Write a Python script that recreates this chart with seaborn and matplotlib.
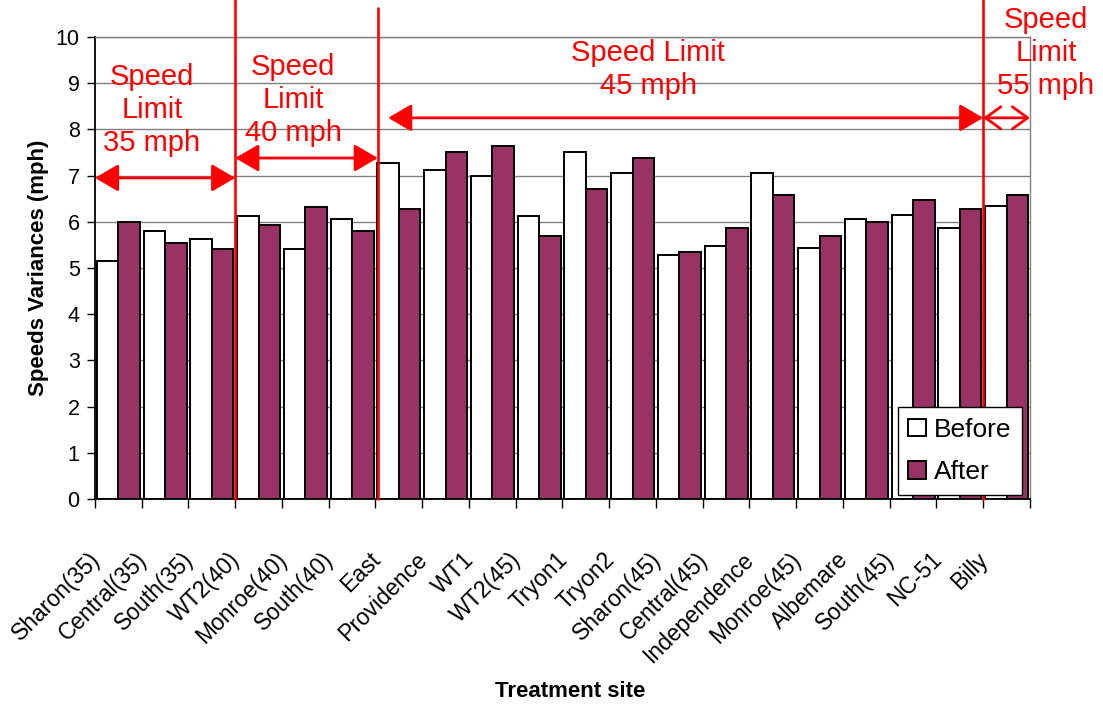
import matplotlib
matplotlib.use("Agg")
import matplotlib.pyplot as plt
import matplotlib.transforms as mtransforms
import numpy as np
import pandas as pd
import seaborn as sns

# ---------------- data ----------------
sites = ["Sharon(35)", "Central(35)", "South(35)", "WT2(40)", "Monroe(40)",
         "South(40)", "East", "Providence", "WT1", "WT2(45)", "Tryon1",
         "Tryon2", "Sharon(45)", "Central(45)", "Independence", "Monroe(45)",
         "Albemare", "South(45)", "NC-51", "Billy"]
before = [5.16, 5.81, 5.62, 6.13, 5.42, 6.07, 7.27, 7.13, 6.99, 6.13, 7.50,
          7.06, 5.29, 5.48, 7.06, 5.43, 6.07, 6.14, 5.87, 6.34]
after = [6.00, 5.55, 5.42, 5.93, 6.33, 5.81, 6.28, 7.50, 7.65, 5.69, 6.72,
         7.37, 5.35, 5.87, 6.58, 5.69, 6.00, 6.47, 6.27, 6.58]
periods = ["Before", "After"]
y_ticks = list(range(0, 11))

# speed-limit zone annotations
zone_texts = ["Speed\nLimit\n35 mph", "Speed\nLimit\n40 mph",
              "Speed Limit\n45 mph", "Speed\nLimit\n55 mph"]
zone_text_x = [0.72, 3.74, 11.33, 19.84]
zone_text_y = [8.42, 8.64, 9.30, 9.65]
zone_arrow_x0 = [-0.5, 2.5, 5.77, 18.5]
zone_arrow_x1 = [2.5, 5.55, 18.5, 19.5]
zone_arrow_y = [6.95, 7.38, 8.25, 8.25]
divider_x = [2.5, 5.55, 18.5]
divider_top = [1.08, 1.063, 1.08]

df = pd.DataFrame({
    "site": sites * 2,
    "value": before + after,
    "period": ["Before"] * len(sites) + ["After"] * len(sites),
})

sns.set_style("white")
plt.rcParams["font.family"] = ["Liberation Sans", "DejaVu Sans"]
plt.rcParams["text.color"] = "black"
plt.rcParams["axes.labelcolor"] = "black"
plt.rcParams["xtick.color"] = "black"
plt.rcParams["ytick.color"] = "black"

fig = plt.figure(figsize=(11.03, 7.10), dpi=100)
ax = fig.add_axes([0.0861, 0.2972, 0.8477, 0.6507])

sns.barplot(data=df, x="site", y="value", hue="period", hue_order=periods,
            order=sites, palette={"Before": "white", "After": "#993366"},
            edgecolor="black", linewidth=1.4, width=0.92, ax=ax,
            errorbar=None, saturation=1)

ax.set_xlim(-0.5, len(sites) - 0.5)
ax.set_ylim(0, 10)
ax.set_yticks(y_ticks)
ax.set_yticklabels([str(t) for t in y_ticks], fontsize=15.5, color="black")
ax.yaxis.grid(True, color="#808080", linewidth=1.0)
ax.set_axisbelow(True)
ax.tick_params(axis="y", length=6, width=1, color="black", pad=5,
               direction="out", left=True)

# x ticks: labels at centers, tick marks at category boundaries
ax.set_xticks(np.arange(len(sites)))
ax.set_xticklabels(sites, fontsize=16.5, rotation=45, ha="right",
                   va="center", rotation_mode="anchor", color="black")
ax.tick_params(axis="x", which="major", length=0, pad=41, bottom=True)
ax.set_xticks(np.arange(len(sites) + 1) - 0.5, minor=True)
ax.tick_params(axis="x", which="minor", length=6.5, width=1, color="black",
               direction="out", bottom=True)
offset = mtransforms.ScaledTranslation(-0.22, 0, fig.dpi_scale_trans)
for lab in ax.get_xticklabels():
    lab.set_transform(lab.get_transform() + offset)

for side in ["left", "bottom"]:
    ax.spines[side].set_color("black")
    ax.spines[side].set_linewidth(1.3)
for side in ["top", "right"]:
    ax.spines[side].set_visible(True)
    ax.spines[side].set_color("#808080")
    ax.spines[side].set_linewidth(1.0)

ax.set_xlabel("Treatment site", fontsize=16, fontweight="bold", color="black")
ax.set_ylabel("Speeds Variances (mph)", fontsize=16, fontweight="bold",
              color="black")
ax.xaxis.set_label_coords(0.508, -0.395)
ax.yaxis.set_label_coords(-0.049, 0.5)

# legend
handles, labels = ax.get_legend_handles_labels()
leg = ax.legend(handles, labels, loc="lower right",
                bbox_to_anchor=(0.991, 0.009), borderaxespad=0,
                fontsize=19, frameon=True, fancybox=False, shadow=False,
                framealpha=1, edgecolor="black", handlelength=0.65,
                handleheight=0.65, handletextpad=0.3, labelspacing=0.7,
                borderpad=0.4)
leg.get_frame().set_linewidth(1.0)

# red dividers
for x, top in zip(divider_x, divider_top):
    ax.plot([x, x], [0, top], color="red", linewidth=1.9,
            transform=ax.get_xaxis_transform(), clip_on=False, zorder=5)

# arrows
for i, (x0, x1, y) in enumerate(zip(zone_arrow_x0, zone_arrow_x1, zone_arrow_y)):
    if i == 3:
        style = "<->,head_length=0.55,head_width=0.4"
    else:
        style = "<|-|>,head_length=0.72,head_width=0.42"
    ax.annotate("", xy=(x1, y), xytext=(x0, y),
                arrowprops=dict(arrowstyle=style, color="red", lw=2.0,
                                mutation_scale=20, shrinkA=0, shrinkB=0),
                zorder=6, annotation_clip=False)

# zone texts
for t, x, y in zip(zone_texts, zone_text_x, zone_text_y):
    ax.text(x, y, t, color="red", fontsize=21, ha="center", va="center",
            linespacing=1.22, multialignment="center", zorder=7,
            clip_on=False)

fig.savefig("out.png", dpi=100)
